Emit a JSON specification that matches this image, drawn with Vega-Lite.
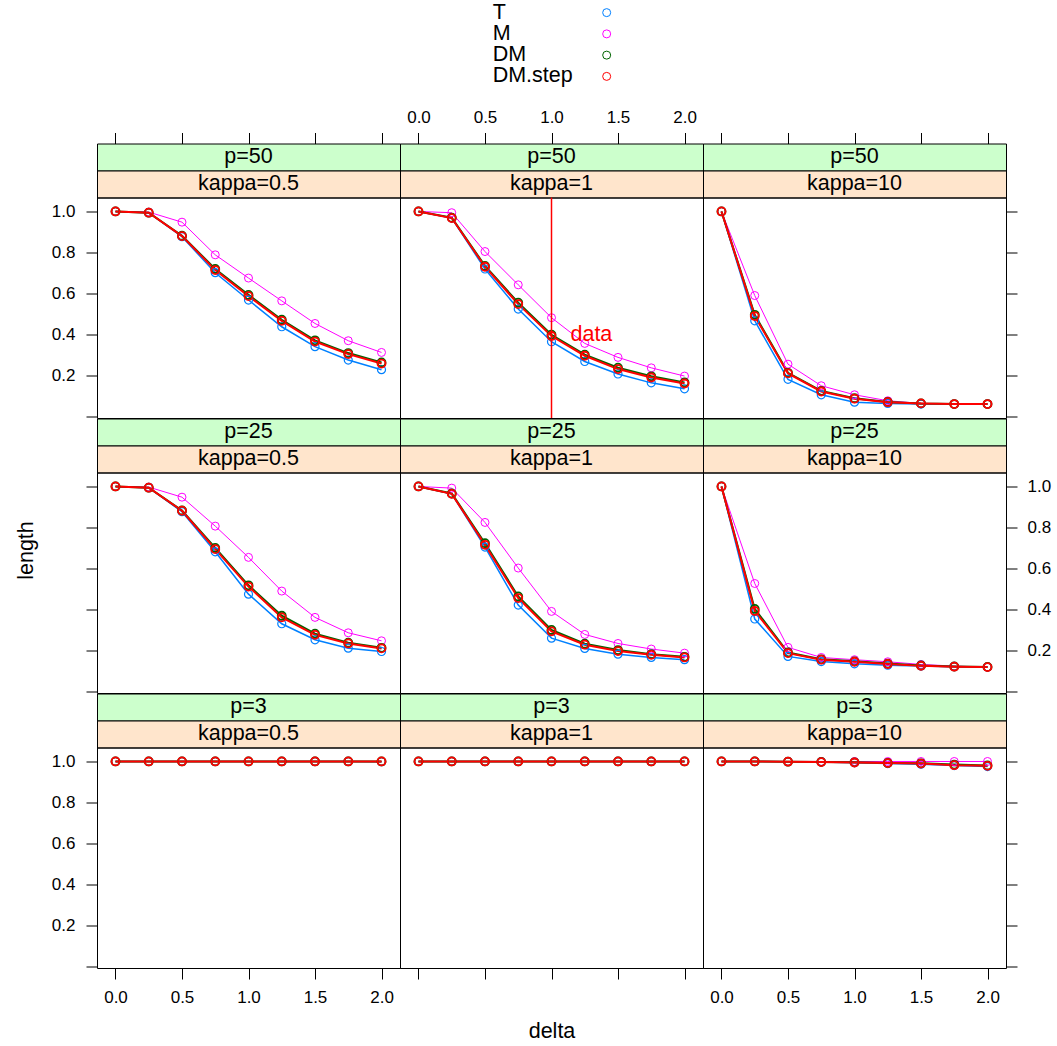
{
"$schema": "https://vega.github.io/schema/vega-lite/v6.json",
"padding": {"left": 14, "top": 1, "right": 0, "bottom": 0},
"config": {
 "font": "Liberation Sans",
 "view": {"stroke": "#000000", "strokeWidth": 1},
 "axis": {"domain": false, "grid": false, "ticks": true, "tickSize": 11, "tickColor": "#000000", "tickWidth": 1, "labelFont": "Liberation Sans", "labelFontSize": 17, "labelColor": "#000000", "labelFlush": false, "labelOverlap": false, "titleFont": "Liberation Sans", "titleFontSize": 21.5, "titleFontWeight": "normal", "titleColor": "#000000"},
 "axisLeft": {"labelPadding": 11},
 "axisRight": {"labelPadding": 10},
 "axisBottom": {"labelPadding": 10.5},
 "axisTop": {"labelPadding": 6},
 "text": {"font": "Liberation Sans", "fontSize": 21.5, "color": "#000000"}
},
"datasets": {"d": [
{"p":50,"kappa":0.5,"series":"T","delta":0,"length":1},{"p":50,"kappa":0.5,"series":"T","delta":0.25,"length":0.994},{"p":50,"kappa":0.5,"series":"T","delta":0.5,"length":0.877},{"p":50,"kappa":0.5,"series":"T","delta":0.75,"length":0.702},{"p":50,"kappa":0.5,"series":"T","delta":1,"length":0.569},{"p":50,"kappa":0.5,"series":"T","delta":1.25,"length":0.439},{"p":50,"kappa":0.5,"series":"T","delta":1.5,"length":0.342},{"p":50,"kappa":0.5,"series":"T","delta":1.75,"length":0.277},{"p":50,"kappa":0.5,"series":"T","delta":2,"length":0.23},
{"p":50,"kappa":0.5,"series":"M","delta":0,"length":1},{"p":50,"kappa":0.5,"series":"M","delta":0.25,"length":0.997},{"p":50,"kappa":0.5,"series":"M","delta":0.5,"length":0.948},{"p":50,"kappa":0.5,"series":"M","delta":0.75,"length":0.789},{"p":50,"kappa":0.5,"series":"M","delta":1,"length":0.676},{"p":50,"kappa":0.5,"series":"M","delta":1.25,"length":0.565},{"p":50,"kappa":0.5,"series":"M","delta":1.5,"length":0.455},{"p":50,"kappa":0.5,"series":"M","delta":1.75,"length":0.371},{"p":50,"kappa":0.5,"series":"M","delta":2,"length":0.314},
{"p":50,"kappa":0.5,"series":"DM","delta":0,"length":1},{"p":50,"kappa":0.5,"series":"DM","delta":0.25,"length":0.994},{"p":50,"kappa":0.5,"series":"DM","delta":0.5,"length":0.882},{"p":50,"kappa":0.5,"series":"DM","delta":0.75,"length":0.72},{"p":50,"kappa":0.5,"series":"DM","delta":1,"length":0.594},{"p":50,"kappa":0.5,"series":"DM","delta":1.25,"length":0.473},{"p":50,"kappa":0.5,"series":"DM","delta":1.5,"length":0.373},{"p":50,"kappa":0.5,"series":"DM","delta":1.75,"length":0.311},{"p":50,"kappa":0.5,"series":"DM","delta":2,"length":0.265},
{"p":50,"kappa":0.5,"series":"DM.step","delta":0,"length":1},{"p":50,"kappa":0.5,"series":"DM.step","delta":0.25,"length":0.994},{"p":50,"kappa":0.5,"series":"DM.step","delta":0.5,"length":0.88},{"p":50,"kappa":0.5,"series":"DM.step","delta":0.75,"length":0.715},{"p":50,"kappa":0.5,"series":"DM.step","delta":1,"length":0.588},{"p":50,"kappa":0.5,"series":"DM.step","delta":1.25,"length":0.468},{"p":50,"kappa":0.5,"series":"DM.step","delta":1.5,"length":0.367},{"p":50,"kappa":0.5,"series":"DM.step","delta":1.75,"length":0.306},{"p":50,"kappa":0.5,"series":"DM.step","delta":2,"length":0.26},
{"p":50,"kappa":1,"series":"T","delta":0,"length":1},{"p":50,"kappa":1,"series":"T","delta":0.25,"length":0.968},{"p":50,"kappa":1,"series":"T","delta":0.5,"length":0.72},{"p":50,"kappa":1,"series":"T","delta":0.75,"length":0.525},{"p":50,"kappa":1,"series":"T","delta":1,"length":0.366},{"p":50,"kappa":1,"series":"T","delta":1.25,"length":0.27},{"p":50,"kappa":1,"series":"T","delta":1.5,"length":0.209},{"p":50,"kappa":1,"series":"T","delta":1.75,"length":0.166},{"p":50,"kappa":1,"series":"T","delta":2,"length":0.137},
{"p":50,"kappa":1,"series":"M","delta":0,"length":1},{"p":50,"kappa":1,"series":"M","delta":0.25,"length":0.994},{"p":50,"kappa":1,"series":"M","delta":0.5,"length":0.805},{"p":50,"kappa":1,"series":"M","delta":0.75,"length":0.643},{"p":50,"kappa":1,"series":"M","delta":1,"length":0.483},{"p":50,"kappa":1,"series":"M","delta":1.25,"length":0.358},{"p":50,"kappa":1,"series":"M","delta":1.5,"length":0.29},{"p":50,"kappa":1,"series":"M","delta":1.75,"length":0.239},{"p":50,"kappa":1,"series":"M","delta":2,"length":0.199},
{"p":50,"kappa":1,"series":"DM","delta":0,"length":1},{"p":50,"kappa":1,"series":"DM","delta":0.25,"length":0.97},{"p":50,"kappa":1,"series":"DM","delta":0.5,"length":0.735},{"p":50,"kappa":1,"series":"DM","delta":0.75,"length":0.556},{"p":50,"kappa":1,"series":"DM","delta":1,"length":0.4},{"p":50,"kappa":1,"series":"DM","delta":1.25,"length":0.303},{"p":50,"kappa":1,"series":"DM","delta":1.5,"length":0.24},{"p":50,"kappa":1,"series":"DM","delta":1.75,"length":0.198},{"p":50,"kappa":1,"series":"DM","delta":2,"length":0.168},
{"p":50,"kappa":1,"series":"DM.step","delta":0,"length":1},{"p":50,"kappa":1,"series":"DM.step","delta":0.25,"length":0.968},{"p":50,"kappa":1,"series":"DM.step","delta":0.5,"length":0.731},{"p":50,"kappa":1,"series":"DM.step","delta":0.75,"length":0.549},{"p":50,"kappa":1,"series":"DM.step","delta":1,"length":0.394},{"p":50,"kappa":1,"series":"DM.step","delta":1.25,"length":0.298},{"p":50,"kappa":1,"series":"DM.step","delta":1.5,"length":0.233},{"p":50,"kappa":1,"series":"DM.step","delta":1.75,"length":0.192},{"p":50,"kappa":1,"series":"DM.step","delta":2,"length":0.163},
{"p":50,"kappa":10,"series":"T","delta":0,"length":1},{"p":50,"kappa":10,"series":"T","delta":0.25,"length":0.468},{"p":50,"kappa":10,"series":"T","delta":0.5,"length":0.183},{"p":50,"kappa":10,"series":"T","delta":0.75,"length":0.108},{"p":50,"kappa":10,"series":"T","delta":1,"length":0.072},{"p":50,"kappa":10,"series":"T","delta":1.25,"length":0.066},{"p":50,"kappa":10,"series":"T","delta":1.5,"length":0.063},{"p":50,"kappa":10,"series":"T","delta":1.75,"length":0.063},{"p":50,"kappa":10,"series":"T","delta":2,"length":0.063},
{"p":50,"kappa":10,"series":"M","delta":0,"length":1},{"p":50,"kappa":10,"series":"M","delta":0.25,"length":0.591},{"p":50,"kappa":10,"series":"M","delta":0.5,"length":0.257},{"p":50,"kappa":10,"series":"M","delta":0.75,"length":0.152},{"p":50,"kappa":10,"series":"M","delta":1,"length":0.108},{"p":50,"kappa":10,"series":"M","delta":1.25,"length":0.079},{"p":50,"kappa":10,"series":"M","delta":1.5,"length":0.066},{"p":50,"kappa":10,"series":"M","delta":1.75,"length":0.063},{"p":50,"kappa":10,"series":"M","delta":2,"length":0.063},
{"p":50,"kappa":10,"series":"DM","delta":0,"length":1},{"p":50,"kappa":10,"series":"DM","delta":0.25,"length":0.497},{"p":50,"kappa":10,"series":"DM","delta":0.5,"length":0.215},{"p":50,"kappa":10,"series":"DM","delta":0.75,"length":0.127},{"p":50,"kappa":10,"series":"DM","delta":1,"length":0.091},{"p":50,"kappa":10,"series":"DM","delta":1.25,"length":0.073},{"p":50,"kappa":10,"series":"DM","delta":1.5,"length":0.066},{"p":50,"kappa":10,"series":"DM","delta":1.75,"length":0.063},{"p":50,"kappa":10,"series":"DM","delta":2,"length":0.063},
{"p":50,"kappa":10,"series":"DM.step","delta":0,"length":1},{"p":50,"kappa":10,"series":"DM.step","delta":0.25,"length":0.491},{"p":50,"kappa":10,"series":"DM.step","delta":0.5,"length":0.212},{"p":50,"kappa":10,"series":"DM.step","delta":0.75,"length":0.124},{"p":50,"kappa":10,"series":"DM.step","delta":1,"length":0.089},{"p":50,"kappa":10,"series":"DM.step","delta":1.25,"length":0.072},{"p":50,"kappa":10,"series":"DM.step","delta":1.5,"length":0.066},{"p":50,"kappa":10,"series":"DM.step","delta":1.75,"length":0.063},{"p":50,"kappa":10,"series":"DM.step","delta":2,"length":0.063},
{"p":25,"kappa":0.5,"series":"T","delta":0,"length":1},{"p":25,"kappa":0.5,"series":"T","delta":0.25,"length":0.994},{"p":25,"kappa":0.5,"series":"T","delta":0.5,"length":0.877},{"p":25,"kappa":0.5,"series":"T","delta":0.75,"length":0.682},{"p":25,"kappa":0.5,"series":"T","delta":1,"length":0.476},{"p":25,"kappa":0.5,"series":"T","delta":1.25,"length":0.332},{"p":25,"kappa":0.5,"series":"T","delta":1.5,"length":0.254},{"p":25,"kappa":0.5,"series":"T","delta":1.75,"length":0.213},{"p":25,"kappa":0.5,"series":"T","delta":2,"length":0.197},
{"p":25,"kappa":0.5,"series":"M","delta":0,"length":1},{"p":25,"kappa":0.5,"series":"M","delta":0.25,"length":0.997},{"p":25,"kappa":0.5,"series":"M","delta":0.5,"length":0.948},{"p":25,"kappa":0.5,"series":"M","delta":0.75,"length":0.807},{"p":25,"kappa":0.5,"series":"M","delta":1,"length":0.655},{"p":25,"kappa":0.5,"series":"M","delta":1.25,"length":0.491},{"p":25,"kappa":0.5,"series":"M","delta":1.5,"length":0.363},{"p":25,"kappa":0.5,"series":"M","delta":1.75,"length":0.288},{"p":25,"kappa":0.5,"series":"M","delta":2,"length":0.249},
{"p":25,"kappa":0.5,"series":"DM","delta":0,"length":1},{"p":25,"kappa":0.5,"series":"DM","delta":0.25,"length":0.994},{"p":25,"kappa":0.5,"series":"DM","delta":0.5,"length":0.883},{"p":25,"kappa":0.5,"series":"DM","delta":0.75,"length":0.701},{"p":25,"kappa":0.5,"series":"DM","delta":1,"length":0.519},{"p":25,"kappa":0.5,"series":"DM","delta":1.25,"length":0.371},{"p":25,"kappa":0.5,"series":"DM","delta":1.5,"length":0.284},{"p":25,"kappa":0.5,"series":"DM","delta":1.75,"length":0.24},{"p":25,"kappa":0.5,"series":"DM","delta":2,"length":0.215},
{"p":25,"kappa":0.5,"series":"DM.step","delta":0,"length":1},{"p":25,"kappa":0.5,"series":"DM.step","delta":0.25,"length":0.994},{"p":25,"kappa":0.5,"series":"DM.step","delta":0.5,"length":0.882},{"p":25,"kappa":0.5,"series":"DM.step","delta":0.75,"length":0.695},{"p":25,"kappa":0.5,"series":"DM.step","delta":1,"length":0.513},{"p":25,"kappa":0.5,"series":"DM.step","delta":1.25,"length":0.363},{"p":25,"kappa":0.5,"series":"DM.step","delta":1.5,"length":0.278},{"p":25,"kappa":0.5,"series":"DM.step","delta":1.75,"length":0.236},{"p":25,"kappa":0.5,"series":"DM.step","delta":2,"length":0.212},
{"p":25,"kappa":1,"series":"T","delta":0,"length":1},{"p":25,"kappa":1,"series":"T","delta":0.25,"length":0.964},{"p":25,"kappa":1,"series":"T","delta":0.5,"length":0.705},{"p":25,"kappa":1,"series":"T","delta":0.75,"length":0.423},{"p":25,"kappa":1,"series":"T","delta":1,"length":0.262},{"p":25,"kappa":1,"series":"T","delta":1.25,"length":0.212},{"p":25,"kappa":1,"series":"T","delta":1.5,"length":0.184},{"p":25,"kappa":1,"series":"T","delta":1.75,"length":0.168},{"p":25,"kappa":1,"series":"T","delta":2,"length":0.157},
{"p":25,"kappa":1,"series":"M","delta":0,"length":1},{"p":25,"kappa":1,"series":"M","delta":0.25,"length":0.992},{"p":25,"kappa":1,"series":"M","delta":0.5,"length":0.825},{"p":25,"kappa":1,"series":"M","delta":0.75,"length":0.603},{"p":25,"kappa":1,"series":"M","delta":1,"length":0.392},{"p":25,"kappa":1,"series":"M","delta":1.25,"length":0.28},{"p":25,"kappa":1,"series":"M","delta":1.5,"length":0.236},{"p":25,"kappa":1,"series":"M","delta":1.75,"length":0.209},{"p":25,"kappa":1,"series":"M","delta":2,"length":0.189},
{"p":25,"kappa":1,"series":"DM","delta":0,"length":1},{"p":25,"kappa":1,"series":"DM","delta":0.25,"length":0.966},{"p":25,"kappa":1,"series":"DM","delta":0.5,"length":0.724},{"p":25,"kappa":1,"series":"DM","delta":0.75,"length":0.465},{"p":25,"kappa":1,"series":"DM","delta":1,"length":0.302},{"p":25,"kappa":1,"series":"DM","delta":1.25,"length":0.235},{"p":25,"kappa":1,"series":"DM","delta":1.5,"length":0.204},{"p":25,"kappa":1,"series":"DM","delta":1.75,"length":0.184},{"p":25,"kappa":1,"series":"DM","delta":2,"length":0.171},
{"p":25,"kappa":1,"series":"DM.step","delta":0,"length":1},{"p":25,"kappa":1,"series":"DM.step","delta":0.25,"length":0.964},{"p":25,"kappa":1,"series":"DM.step","delta":0.5,"length":0.716},{"p":25,"kappa":1,"series":"DM.step","delta":0.75,"length":0.457},{"p":25,"kappa":1,"series":"DM.step","delta":1,"length":0.295},{"p":25,"kappa":1,"series":"DM.step","delta":1.25,"length":0.23},{"p":25,"kappa":1,"series":"DM.step","delta":1.5,"length":0.199},{"p":25,"kappa":1,"series":"DM.step","delta":1.75,"length":0.181},{"p":25,"kappa":1,"series":"DM.step","delta":2,"length":0.168},
{"p":25,"kappa":10,"series":"T","delta":0,"length":1},{"p":25,"kappa":10,"series":"T","delta":0.25,"length":0.355},{"p":25,"kappa":10,"series":"T","delta":0.5,"length":0.173},{"p":25,"kappa":10,"series":"T","delta":0.75,"length":0.148},{"p":25,"kappa":10,"series":"T","delta":1,"length":0.137},{"p":25,"kappa":10,"series":"T","delta":1.25,"length":0.13},{"p":25,"kappa":10,"series":"T","delta":1.5,"length":0.126},{"p":25,"kappa":10,"series":"T","delta":1.75,"length":0.123},{"p":25,"kappa":10,"series":"T","delta":2,"length":0.121},
{"p":25,"kappa":10,"series":"M","delta":0,"length":1},{"p":25,"kappa":10,"series":"M","delta":0.25,"length":0.528},{"p":25,"kappa":10,"series":"M","delta":0.5,"length":0.217},{"p":25,"kappa":10,"series":"M","delta":0.75,"length":0.168},{"p":25,"kappa":10,"series":"M","delta":1,"length":0.157},{"p":25,"kappa":10,"series":"M","delta":1.25,"length":0.147},{"p":25,"kappa":10,"series":"M","delta":1.5,"length":0.134},{"p":25,"kappa":10,"series":"M","delta":1.75,"length":0.126},{"p":25,"kappa":10,"series":"M","delta":2,"length":0.121},
{"p":25,"kappa":10,"series":"DM","delta":0,"length":1},{"p":25,"kappa":10,"series":"DM","delta":0.25,"length":0.404},{"p":25,"kappa":10,"series":"DM","delta":0.5,"length":0.192},{"p":25,"kappa":10,"series":"DM","delta":0.75,"length":0.159},{"p":25,"kappa":10,"series":"DM","delta":1,"length":0.149},{"p":25,"kappa":10,"series":"DM","delta":1.25,"length":0.138},{"p":25,"kappa":10,"series":"DM","delta":1.5,"length":0.129},{"p":25,"kappa":10,"series":"DM","delta":1.75,"length":0.124},{"p":25,"kappa":10,"series":"DM","delta":2,"length":0.122},
{"p":25,"kappa":10,"series":"DM.step","delta":0,"length":1},{"p":25,"kappa":10,"series":"DM.step","delta":0.25,"length":0.394},{"p":25,"kappa":10,"series":"DM.step","delta":0.5,"length":0.189},{"p":25,"kappa":10,"series":"DM.step","delta":0.75,"length":0.157},{"p":25,"kappa":10,"series":"DM.step","delta":1,"length":0.147},{"p":25,"kappa":10,"series":"DM.step","delta":1.25,"length":0.136},{"p":25,"kappa":10,"series":"DM.step","delta":1.5,"length":0.127},{"p":25,"kappa":10,"series":"DM.step","delta":1.75,"length":0.123},{"p":25,"kappa":10,"series":"DM.step","delta":2,"length":0.121},
{"p":3,"kappa":0.5,"series":"T","delta":0,"length":1},{"p":3,"kappa":0.5,"series":"T","delta":0.25,"length":1},{"p":3,"kappa":0.5,"series":"T","delta":0.5,"length":1},{"p":3,"kappa":0.5,"series":"T","delta":0.75,"length":1},{"p":3,"kappa":0.5,"series":"T","delta":1,"length":1},{"p":3,"kappa":0.5,"series":"T","delta":1.25,"length":1},{"p":3,"kappa":0.5,"series":"T","delta":1.5,"length":1},{"p":3,"kappa":0.5,"series":"T","delta":1.75,"length":1},{"p":3,"kappa":0.5,"series":"T","delta":2,"length":0.999},
{"p":3,"kappa":0.5,"series":"M","delta":0,"length":1},{"p":3,"kappa":0.5,"series":"M","delta":0.25,"length":1},{"p":3,"kappa":0.5,"series":"M","delta":0.5,"length":1},{"p":3,"kappa":0.5,"series":"M","delta":0.75,"length":1},{"p":3,"kappa":0.5,"series":"M","delta":1,"length":1},{"p":3,"kappa":0.5,"series":"M","delta":1.25,"length":1},{"p":3,"kappa":0.5,"series":"M","delta":1.5,"length":1},{"p":3,"kappa":0.5,"series":"M","delta":1.75,"length":1},{"p":3,"kappa":0.5,"series":"M","delta":2,"length":1},
{"p":3,"kappa":0.5,"series":"DM","delta":0,"length":1},{"p":3,"kappa":0.5,"series":"DM","delta":0.25,"length":1},{"p":3,"kappa":0.5,"series":"DM","delta":0.5,"length":1},{"p":3,"kappa":0.5,"series":"DM","delta":0.75,"length":1},{"p":3,"kappa":0.5,"series":"DM","delta":1,"length":1},{"p":3,"kappa":0.5,"series":"DM","delta":1.25,"length":1},{"p":3,"kappa":0.5,"series":"DM","delta":1.5,"length":1},{"p":3,"kappa":0.5,"series":"DM","delta":1.75,"length":1},{"p":3,"kappa":0.5,"series":"DM","delta":2,"length":1},
{"p":3,"kappa":0.5,"series":"DM.step","delta":0,"length":1},{"p":3,"kappa":0.5,"series":"DM.step","delta":0.25,"length":1},{"p":3,"kappa":0.5,"series":"DM.step","delta":0.5,"length":1},{"p":3,"kappa":0.5,"series":"DM.step","delta":0.75,"length":1},{"p":3,"kappa":0.5,"series":"DM.step","delta":1,"length":1},{"p":3,"kappa":0.5,"series":"DM.step","delta":1.25,"length":1},{"p":3,"kappa":0.5,"series":"DM.step","delta":1.5,"length":1},{"p":3,"kappa":0.5,"series":"DM.step","delta":1.75,"length":1},{"p":3,"kappa":0.5,"series":"DM.step","delta":2,"length":1},
{"p":3,"kappa":1,"series":"T","delta":0,"length":1},{"p":3,"kappa":1,"series":"T","delta":0.25,"length":1},{"p":3,"kappa":1,"series":"T","delta":0.5,"length":1},{"p":3,"kappa":1,"series":"T","delta":0.75,"length":1},{"p":3,"kappa":1,"series":"T","delta":1,"length":1},{"p":3,"kappa":1,"series":"T","delta":1.25,"length":1},{"p":3,"kappa":1,"series":"T","delta":1.5,"length":1},{"p":3,"kappa":1,"series":"T","delta":1.75,"length":1},{"p":3,"kappa":1,"series":"T","delta":2,"length":1},
{"p":3,"kappa":1,"series":"M","delta":0,"length":1},{"p":3,"kappa":1,"series":"M","delta":0.25,"length":1},{"p":3,"kappa":1,"series":"M","delta":0.5,"length":1},{"p":3,"kappa":1,"series":"M","delta":0.75,"length":1},{"p":3,"kappa":1,"series":"M","delta":1,"length":1},{"p":3,"kappa":1,"series":"M","delta":1.25,"length":1},{"p":3,"kappa":1,"series":"M","delta":1.5,"length":1},{"p":3,"kappa":1,"series":"M","delta":1.75,"length":1},{"p":3,"kappa":1,"series":"M","delta":2,"length":1},
{"p":3,"kappa":1,"series":"DM","delta":0,"length":1},{"p":3,"kappa":1,"series":"DM","delta":0.25,"length":1},{"p":3,"kappa":1,"series":"DM","delta":0.5,"length":1},{"p":3,"kappa":1,"series":"DM","delta":0.75,"length":1},{"p":3,"kappa":1,"series":"DM","delta":1,"length":1},{"p":3,"kappa":1,"series":"DM","delta":1.25,"length":1},{"p":3,"kappa":1,"series":"DM","delta":1.5,"length":1},{"p":3,"kappa":1,"series":"DM","delta":1.75,"length":1},{"p":3,"kappa":1,"series":"DM","delta":2,"length":1},
{"p":3,"kappa":1,"series":"DM.step","delta":0,"length":1},{"p":3,"kappa":1,"series":"DM.step","delta":0.25,"length":1},{"p":3,"kappa":1,"series":"DM.step","delta":0.5,"length":1},{"p":3,"kappa":1,"series":"DM.step","delta":0.75,"length":1},{"p":3,"kappa":1,"series":"DM.step","delta":1,"length":1},{"p":3,"kappa":1,"series":"DM.step","delta":1.25,"length":1},{"p":3,"kappa":1,"series":"DM.step","delta":1.5,"length":1},{"p":3,"kappa":1,"series":"DM.step","delta":1.75,"length":1},{"p":3,"kappa":1,"series":"DM.step","delta":2,"length":1},
{"p":3,"kappa":10,"series":"T","delta":0,"length":1},{"p":3,"kappa":10,"series":"T","delta":0.25,"length":1},{"p":3,"kappa":10,"series":"T","delta":0.5,"length":0.999},{"p":3,"kappa":10,"series":"T","delta":0.75,"length":0.997},{"p":3,"kappa":10,"series":"T","delta":1,"length":0.994},{"p":3,"kappa":10,"series":"T","delta":1.25,"length":0.99},{"p":3,"kappa":10,"series":"T","delta":1.5,"length":0.987},{"p":3,"kappa":10,"series":"T","delta":1.75,"length":0.98},{"p":3,"kappa":10,"series":"T","delta":2,"length":0.975},
{"p":3,"kappa":10,"series":"M","delta":0,"length":1},{"p":3,"kappa":10,"series":"M","delta":0.25,"length":1},{"p":3,"kappa":10,"series":"M","delta":0.5,"length":1},{"p":3,"kappa":10,"series":"M","delta":0.75,"length":1},{"p":3,"kappa":10,"series":"M","delta":1,"length":1},{"p":3,"kappa":10,"series":"M","delta":1.25,"length":1},{"p":3,"kappa":10,"series":"M","delta":1.5,"length":1},{"p":3,"kappa":10,"series":"M","delta":1.75,"length":1},{"p":3,"kappa":10,"series":"M","delta":2,"length":1},
{"p":3,"kappa":10,"series":"DM","delta":0,"length":1},{"p":3,"kappa":10,"series":"DM","delta":0.25,"length":1},{"p":3,"kappa":10,"series":"DM","delta":0.5,"length":0.999},{"p":3,"kappa":10,"series":"DM","delta":0.75,"length":0.998},{"p":3,"kappa":10,"series":"DM","delta":1,"length":0.996},{"p":3,"kappa":10,"series":"DM","delta":1.25,"length":0.993},{"p":3,"kappa":10,"series":"DM","delta":1.5,"length":0.991},{"p":3,"kappa":10,"series":"DM","delta":1.75,"length":0.985},{"p":3,"kappa":10,"series":"DM","delta":2,"length":0.981},
{"p":3,"kappa":10,"series":"DM.step","delta":0,"length":1},{"p":3,"kappa":10,"series":"DM.step","delta":0.25,"length":1},{"p":3,"kappa":10,"series":"DM.step","delta":0.5,"length":0.999},{"p":3,"kappa":10,"series":"DM.step","delta":0.75,"length":0.997},{"p":3,"kappa":10,"series":"DM.step","delta":1,"length":0.995},{"p":3,"kappa":10,"series":"DM.step","delta":1.25,"length":0.992},{"p":3,"kappa":10,"series":"DM.step","delta":1.5,"length":0.99},{"p":3,"kappa":10,"series":"DM.step","delta":1.75,"length":0.982},{"p":3,"kappa":10,"series":"DM.step","delta":2,"length":0.979}
]},
"spacing": 20.5,
"vconcat": [
{
 "width": 909, "height": 85,
 "view": {"stroke": null},
 "data": {"values": [{"series": "T"}, {"series": "M"}, {"series": "DM"}, {"series": "DM.step"}]},
 "encoding": {"y": {"field": "series", "type": "nominal", "sort": null, "scale": {"domain": ["T", "M", "DM", "DM.step"]}, "axis": null}},
 "layer": [
  {"mark": {"type": "text", "align": "left", "baseline": "middle", "fontSize": 21.5, "color": "#000000"},
   "encoding": {"x": {"datum": 0.4353, "type": "quantitative", "scale": {"domain": [0, 1], "nice": false, "zero": false}, "axis": null}, "text": {"field": "series"}}},
  {"mark": {"type": "point", "filled": false, "size": 64, "strokeWidth": 1, "opacity": 1},
   "encoding": {"x": {"datum": 0.5607, "type": "quantitative"}, "color": {"field": "series", "type": "nominal", "scale": {"domain": ["T", "M", "DM", "DM.step"], "range": ["#0080ff", "#ff00ff", "#006400", "#ff0000"]}, "legend": null}}}
 ]
},
{
 "columns": 3, "spacing": 0, "bounds": "flush",
 "concat": [
  {"width": 303, "height": 27, "view": {"fill": "#ccffcc", "stroke": "#000000"}, "data": {"values": [{"label": "p=50"}]}, "mark": {"type": "text", "fontSize": 21.5}, "encoding": {"text": {"field": "label"}, "x": {"datum": 1, "type": "quantitative", "scale": {"domain": [-0.139, 2.139], "nice": false, "zero": false}, "axis": {"orient": "top", "values": [0, 0.5, 1, 1.5, 2], "labels": false, "title": null}}}},
  {"width": 303, "height": 27, "view": {"fill": "#ccffcc", "stroke": "#000000"}, "data": {"values": [{"label": "p=50"}]}, "mark": {"type": "text", "fontSize": 21.5}, "encoding": {"text": {"field": "label"}, "x": {"datum": 1, "type": "quantitative", "scale": {"domain": [-0.139, 2.139], "nice": false, "zero": false}, "axis": {"orient": "top", "values": [0, 0.5, 1, 1.5, 2], "format": ".1f", "title": null}}}},
  {"width": 303, "height": 27, "view": {"fill": "#ccffcc", "stroke": "#000000"}, "data": {"values": [{"label": "p=50"}]}, "mark": {"type": "text", "fontSize": 21.5}, "encoding": {"text": {"field": "label"}, "x": {"datum": 1, "type": "quantitative", "scale": {"domain": [-0.139, 2.139], "nice": false, "zero": false}, "axis": {"orient": "top", "values": [0, 0.5, 1, 1.5, 2], "labels": false, "title": null}}}},
  {"width": 303, "height": 27, "view": {"fill": "#ffe5cc", "stroke": "#000000"}, "data": {"values": [{"label": "kappa=0.5"}]}, "mark": {"type": "text", "fontSize": 21.5}, "encoding": {"text": {"field": "label"}}},
  {"width": 303, "height": 27, "view": {"fill": "#ffe5cc", "stroke": "#000000"}, "data": {"values": [{"label": "kappa=1"}]}, "mark": {"type": "text", "fontSize": 21.5}, "encoding": {"text": {"field": "label"}}},
  {"width": 303, "height": 27, "view": {"fill": "#ffe5cc", "stroke": "#000000"}, "data": {"values": [{"label": "kappa=10"}]}, "mark": {"type": "text", "fontSize": 21.5}, "encoding": {"text": {"field": "label"}}},
  {"width": 303, "height": 220.5, "data": {"name": "d"}, "transform": [{"filter": "datum.p == 50 && datum.kappa == 0.5"}],
   "encoding": {"x": {"field": "delta", "type": "quantitative", "scale": {"domain": [-0.139, 2.139], "nice": false, "zero": false}, "axis": null},
    "y": {"field": "length", "type": "quantitative", "scale": {"domain": [-0.005, 1.068], "nice": false, "zero": false}, "axis": {"orient": "left", "values": [0, 0.2, 0.4, 0.6, 0.8, 1], "labelExpr": "datum.value == 0 ? '' : format(datum.value, '.1f')", "title": null}},
    "color": {"field": "series", "type": "nominal", "scale": {"domain": ["T", "M", "DM", "DM.step"], "range": ["#0080ff", "#ff00ff", "#006400", "#ff0000"]}, "legend": null}},
   "layer": [
    {"mark": {"type": "line"}, "encoding": {"strokeWidth": {"condition": [{"test": "datum.series == 'M'", "value": 1}, {"test": "datum.series == 'T'", "value": 1.5}], "value": 2}}},
    {"mark": {"type": "point", "filled": false, "size": 64, "opacity": 1}, "encoding": {"strokeWidth": {"condition": [{"test": "datum.series == 'M'", "value": 1}, {"test": "datum.series == 'T'", "value": 1.2}], "value": 1.8}}}
   ]},
  {"width": 303, "height": 220.5,
   "layer": [
    {"data": {"name": "d"}, "transform": [{"filter": "datum.p == 50 && datum.kappa == 1"}], "mark": {"type": "line"},
     "encoding": {"x": {"field": "delta", "type": "quantitative", "scale": {"domain": [-0.139, 2.139], "nice": false, "zero": false}, "axis": null}, "y": {"field": "length", "type": "quantitative", "scale": {"domain": [-0.005, 1.068], "nice": false, "zero": false}, "axis": null},
      "color": {"field": "series", "type": "nominal", "scale": {"domain": ["T", "M", "DM", "DM.step"], "range": ["#0080ff", "#ff00ff", "#006400", "#ff0000"]}, "legend": null}, "strokeWidth": {"condition": [{"test": "datum.series == 'M'", "value": 1}, {"test": "datum.series == 'T'", "value": 1.5}], "value": 2}}},
    {"data": {"name": "d"}, "transform": [{"filter": "datum.p == 50 && datum.kappa == 1"}], "mark": {"type": "point", "filled": false, "size": 64, "opacity": 1},
     "encoding": {"x": {"field": "delta", "type": "quantitative", "axis": null}, "y": {"field": "length", "type": "quantitative", "axis": null},
      "color": {"field": "series", "type": "nominal", "scale": {"domain": ["T", "M", "DM", "DM.step"], "range": ["#0080ff", "#ff00ff", "#006400", "#ff0000"]}, "legend": null}, "strokeWidth": {"condition": [{"test": "datum.series == 'M'", "value": 1}, {"test": "datum.series == 'T'", "value": 1.2}], "value": 1.8}}},
    {"data": {"values": [{"delta": 1}]}, "mark": {"type": "rule", "stroke": "#ff0000", "strokeWidth": 1.5, "strokeOpacity": 1},
     "encoding": {"x": {"field": "delta", "type": "quantitative", "axis": null}}},
    {"data": {"values": [{"delta": 1.3, "length": 0.4, "label": "data"}]}, "mark": {"type": "text", "color": "#ff0000", "fontSize": 21.5, "align": "center", "baseline": "middle"},
     "encoding": {"x": {"field": "delta", "type": "quantitative", "axis": null}, "y": {"field": "length", "type": "quantitative", "axis": null}, "text": {"field": "label"}}}
   ]},
  {"width": 303, "height": 220.5, "data": {"name": "d"}, "transform": [{"filter": "datum.p == 50 && datum.kappa == 10"}],
   "encoding": {"x": {"field": "delta", "type": "quantitative", "scale": {"domain": [-0.139, 2.139], "nice": false, "zero": false}, "axis": null},
    "y": {"field": "length", "type": "quantitative", "scale": {"domain": [-0.005, 1.068], "nice": false, "zero": false}, "axis": {"orient": "right", "values": [0, 0.2, 0.4, 0.6, 0.8, 1], "labels": false, "title": null}},
    "color": {"field": "series", "type": "nominal", "scale": {"domain": ["T", "M", "DM", "DM.step"], "range": ["#0080ff", "#ff00ff", "#006400", "#ff0000"]}, "legend": null}},
   "layer": [
    {"mark": {"type": "line"}, "encoding": {"strokeWidth": {"condition": [{"test": "datum.series == 'M'", "value": 1}, {"test": "datum.series == 'T'", "value": 1.5}], "value": 2}}},
    {"mark": {"type": "point", "filled": false, "size": 64, "opacity": 1}, "encoding": {"strokeWidth": {"condition": [{"test": "datum.series == 'M'", "value": 1}, {"test": "datum.series == 'T'", "value": 1.2}], "value": 1.8}}}
   ]},
  {"width": 303, "height": 27, "view": {"fill": "#ccffcc", "stroke": "#000000"}, "data": {"values": [{"label": "p=25"}]}, "mark": {"type": "text", "fontSize": 21.5}, "encoding": {"text": {"field": "label"}}},
  {"width": 303, "height": 27, "view": {"fill": "#ccffcc", "stroke": "#000000"}, "data": {"values": [{"label": "p=25"}]}, "mark": {"type": "text", "fontSize": 21.5}, "encoding": {"text": {"field": "label"}}},
  {"width": 303, "height": 27, "view": {"fill": "#ccffcc", "stroke": "#000000"}, "data": {"values": [{"label": "p=25"}]}, "mark": {"type": "text", "fontSize": 21.5}, "encoding": {"text": {"field": "label"}}},
  {"width": 303, "height": 27, "view": {"fill": "#ffe5cc", "stroke": "#000000"}, "data": {"values": [{"label": "kappa=0.5"}]}, "mark": {"type": "text", "fontSize": 21.5}, "encoding": {"text": {"field": "label"}}},
  {"width": 303, "height": 27, "view": {"fill": "#ffe5cc", "stroke": "#000000"}, "data": {"values": [{"label": "kappa=1"}]}, "mark": {"type": "text", "fontSize": 21.5}, "encoding": {"text": {"field": "label"}}},
  {"width": 303, "height": 27, "view": {"fill": "#ffe5cc", "stroke": "#000000"}, "data": {"values": [{"label": "kappa=10"}]}, "mark": {"type": "text", "fontSize": 21.5}, "encoding": {"text": {"field": "label"}}},
  {"width": 303, "height": 220.5, "data": {"name": "d"}, "transform": [{"filter": "datum.p == 25 && datum.kappa == 0.5"}],
   "encoding": {"x": {"field": "delta", "type": "quantitative", "scale": {"domain": [-0.139, 2.139], "nice": false, "zero": false}, "axis": null},
    "y": {"field": "length", "type": "quantitative", "scale": {"domain": [-0.005, 1.068], "nice": false, "zero": false}, "axis": {"orient": "left", "values": [0, 0.2, 0.4, 0.6, 0.8, 1], "labels": false, "title": "length", "titlePadding": 48.5, "titleY": 77.5}},
    "color": {"field": "series", "type": "nominal", "scale": {"domain": ["T", "M", "DM", "DM.step"], "range": ["#0080ff", "#ff00ff", "#006400", "#ff0000"]}, "legend": null}},
   "layer": [
    {"mark": {"type": "line"}, "encoding": {"strokeWidth": {"condition": [{"test": "datum.series == 'M'", "value": 1}, {"test": "datum.series == 'T'", "value": 1.5}], "value": 2}}},
    {"mark": {"type": "point", "filled": false, "size": 64, "opacity": 1}, "encoding": {"strokeWidth": {"condition": [{"test": "datum.series == 'M'", "value": 1}, {"test": "datum.series == 'T'", "value": 1.2}], "value": 1.8}}}
   ]},
  {"width": 303, "height": 220.5, "data": {"name": "d"}, "transform": [{"filter": "datum.p == 25 && datum.kappa == 1"}],
   "encoding": {"x": {"field": "delta", "type": "quantitative", "scale": {"domain": [-0.139, 2.139], "nice": false, "zero": false}, "axis": null},
    "y": {"field": "length", "type": "quantitative", "scale": {"domain": [-0.005, 1.068], "nice": false, "zero": false}, "axis": null},
    "color": {"field": "series", "type": "nominal", "scale": {"domain": ["T", "M", "DM", "DM.step"], "range": ["#0080ff", "#ff00ff", "#006400", "#ff0000"]}, "legend": null}},
   "layer": [
    {"mark": {"type": "line"}, "encoding": {"strokeWidth": {"condition": [{"test": "datum.series == 'M'", "value": 1}, {"test": "datum.series == 'T'", "value": 1.5}], "value": 2}}},
    {"mark": {"type": "point", "filled": false, "size": 64, "opacity": 1}, "encoding": {"strokeWidth": {"condition": [{"test": "datum.series == 'M'", "value": 1}, {"test": "datum.series == 'T'", "value": 1.2}], "value": 1.8}}}
   ]},
  {"width": 303, "height": 220.5, "data": {"name": "d"}, "transform": [{"filter": "datum.p == 25 && datum.kappa == 10"}],
   "encoding": {"x": {"field": "delta", "type": "quantitative", "scale": {"domain": [-0.139, 2.139], "nice": false, "zero": false}, "axis": null},
    "y": {"field": "length", "type": "quantitative", "scale": {"domain": [-0.005, 1.068], "nice": false, "zero": false}, "axis": {"orient": "right", "values": [0, 0.2, 0.4, 0.6, 0.8, 1], "labelExpr": "datum.value == 0 ? '' : format(datum.value, '.1f')", "title": null}},
    "color": {"field": "series", "type": "nominal", "scale": {"domain": ["T", "M", "DM", "DM.step"], "range": ["#0080ff", "#ff00ff", "#006400", "#ff0000"]}, "legend": null}},
   "layer": [
    {"mark": {"type": "line"}, "encoding": {"strokeWidth": {"condition": [{"test": "datum.series == 'M'", "value": 1}, {"test": "datum.series == 'T'", "value": 1.5}], "value": 2}}},
    {"mark": {"type": "point", "filled": false, "size": 64, "opacity": 1}, "encoding": {"strokeWidth": {"condition": [{"test": "datum.series == 'M'", "value": 1}, {"test": "datum.series == 'T'", "value": 1.2}], "value": 1.8}}}
   ]},
  {"width": 303, "height": 27, "view": {"fill": "#ccffcc", "stroke": "#000000"}, "data": {"values": [{"label": "p=3"}]}, "mark": {"type": "text", "fontSize": 21.5}, "encoding": {"text": {"field": "label"}}},
  {"width": 303, "height": 27, "view": {"fill": "#ccffcc", "stroke": "#000000"}, "data": {"values": [{"label": "p=3"}]}, "mark": {"type": "text", "fontSize": 21.5}, "encoding": {"text": {"field": "label"}}},
  {"width": 303, "height": 27, "view": {"fill": "#ccffcc", "stroke": "#000000"}, "data": {"values": [{"label": "p=3"}]}, "mark": {"type": "text", "fontSize": 21.5}, "encoding": {"text": {"field": "label"}}},
  {"width": 303, "height": 27, "view": {"fill": "#ffe5cc", "stroke": "#000000"}, "data": {"values": [{"label": "kappa=0.5"}]}, "mark": {"type": "text", "fontSize": 21.5}, "encoding": {"text": {"field": "label"}}},
  {"width": 303, "height": 27, "view": {"fill": "#ffe5cc", "stroke": "#000000"}, "data": {"values": [{"label": "kappa=1"}]}, "mark": {"type": "text", "fontSize": 21.5}, "encoding": {"text": {"field": "label"}}},
  {"width": 303, "height": 27, "view": {"fill": "#ffe5cc", "stroke": "#000000"}, "data": {"values": [{"label": "kappa=10"}]}, "mark": {"type": "text", "fontSize": 21.5}, "encoding": {"text": {"field": "label"}}},
  {"width": 303, "height": 220.5, "data": {"name": "d"}, "transform": [{"filter": "datum.p == 3 && datum.kappa == 0.5"}],
   "encoding": {"x": {"field": "delta", "type": "quantitative", "scale": {"domain": [-0.139, 2.139], "nice": false, "zero": false}, "axis": {"orient": "bottom", "values": [0, 0.5, 1, 1.5, 2], "format": ".1f", "title": null}},
    "y": {"field": "length", "type": "quantitative", "scale": {"domain": [-0.005, 1.068], "nice": false, "zero": false}, "axis": {"orient": "left", "values": [0, 0.2, 0.4, 0.6, 0.8, 1], "labelExpr": "datum.value == 0 ? '' : format(datum.value, '.1f')", "title": null}},
    "color": {"field": "series", "type": "nominal", "scale": {"domain": ["T", "M", "DM", "DM.step"], "range": ["#0080ff", "#ff00ff", "#006400", "#ff0000"]}, "legend": null}},
   "layer": [
    {"mark": {"type": "line"}, "encoding": {"strokeWidth": {"condition": [{"test": "datum.series == 'M'", "value": 1}, {"test": "datum.series == 'T'", "value": 1.5}], "value": 2}}},
    {"mark": {"type": "point", "filled": false, "size": 64, "opacity": 1}, "encoding": {"strokeWidth": {"condition": [{"test": "datum.series == 'M'", "value": 1}, {"test": "datum.series == 'T'", "value": 1.2}], "value": 1.8}}}
   ]},
  {"width": 303, "height": 220.5, "data": {"name": "d"}, "transform": [{"filter": "datum.p == 3 && datum.kappa == 1"}],
   "encoding": {"x": {"field": "delta", "type": "quantitative", "scale": {"domain": [-0.139, 2.139], "nice": false, "zero": false}, "axis": {"orient": "bottom", "values": [0, 0.5, 1, 1.5, 2], "labels": false, "title": "delta", "titlePadding": 40.5}},
    "y": {"field": "length", "type": "quantitative", "scale": {"domain": [-0.005, 1.068], "nice": false, "zero": false}, "axis": null},
    "color": {"field": "series", "type": "nominal", "scale": {"domain": ["T", "M", "DM", "DM.step"], "range": ["#0080ff", "#ff00ff", "#006400", "#ff0000"]}, "legend": null}},
   "layer": [
    {"mark": {"type": "line"}, "encoding": {"strokeWidth": {"condition": [{"test": "datum.series == 'M'", "value": 1}, {"test": "datum.series == 'T'", "value": 1.5}], "value": 2}}},
    {"mark": {"type": "point", "filled": false, "size": 64, "opacity": 1}, "encoding": {"strokeWidth": {"condition": [{"test": "datum.series == 'M'", "value": 1}, {"test": "datum.series == 'T'", "value": 1.2}], "value": 1.8}}}
   ]},
  {"width": 303, "height": 220.5, "data": {"name": "d"}, "transform": [{"filter": "datum.p == 3 && datum.kappa == 10"}],
   "encoding": {"x": {"field": "delta", "type": "quantitative", "scale": {"domain": [-0.139, 2.139], "nice": false, "zero": false}, "axis": {"orient": "bottom", "values": [0, 0.5, 1, 1.5, 2], "format": ".1f", "title": null}},
    "y": {"field": "length", "type": "quantitative", "scale": {"domain": [-0.005, 1.068], "nice": false, "zero": false}, "axis": {"orient": "right", "values": [0, 0.2, 0.4, 0.6, 0.8, 1], "labels": false, "title": null}},
    "color": {"field": "series", "type": "nominal", "scale": {"domain": ["T", "M", "DM", "DM.step"], "range": ["#0080ff", "#ff00ff", "#006400", "#ff0000"]}, "legend": null}},
   "layer": [
    {"mark": {"type": "line"}, "encoding": {"strokeWidth": {"condition": [{"test": "datum.series == 'M'", "value": 1}, {"test": "datum.series == 'T'", "value": 1.5}], "value": 2}}},
    {"mark": {"type": "point", "filled": false, "size": 64, "opacity": 1}, "encoding": {"strokeWidth": {"condition": [{"test": "datum.series == 'M'", "value": 1}, {"test": "datum.series == 'T'", "value": 1.2}], "value": 1.8}}}
   ]}
 ]
}
]
}
